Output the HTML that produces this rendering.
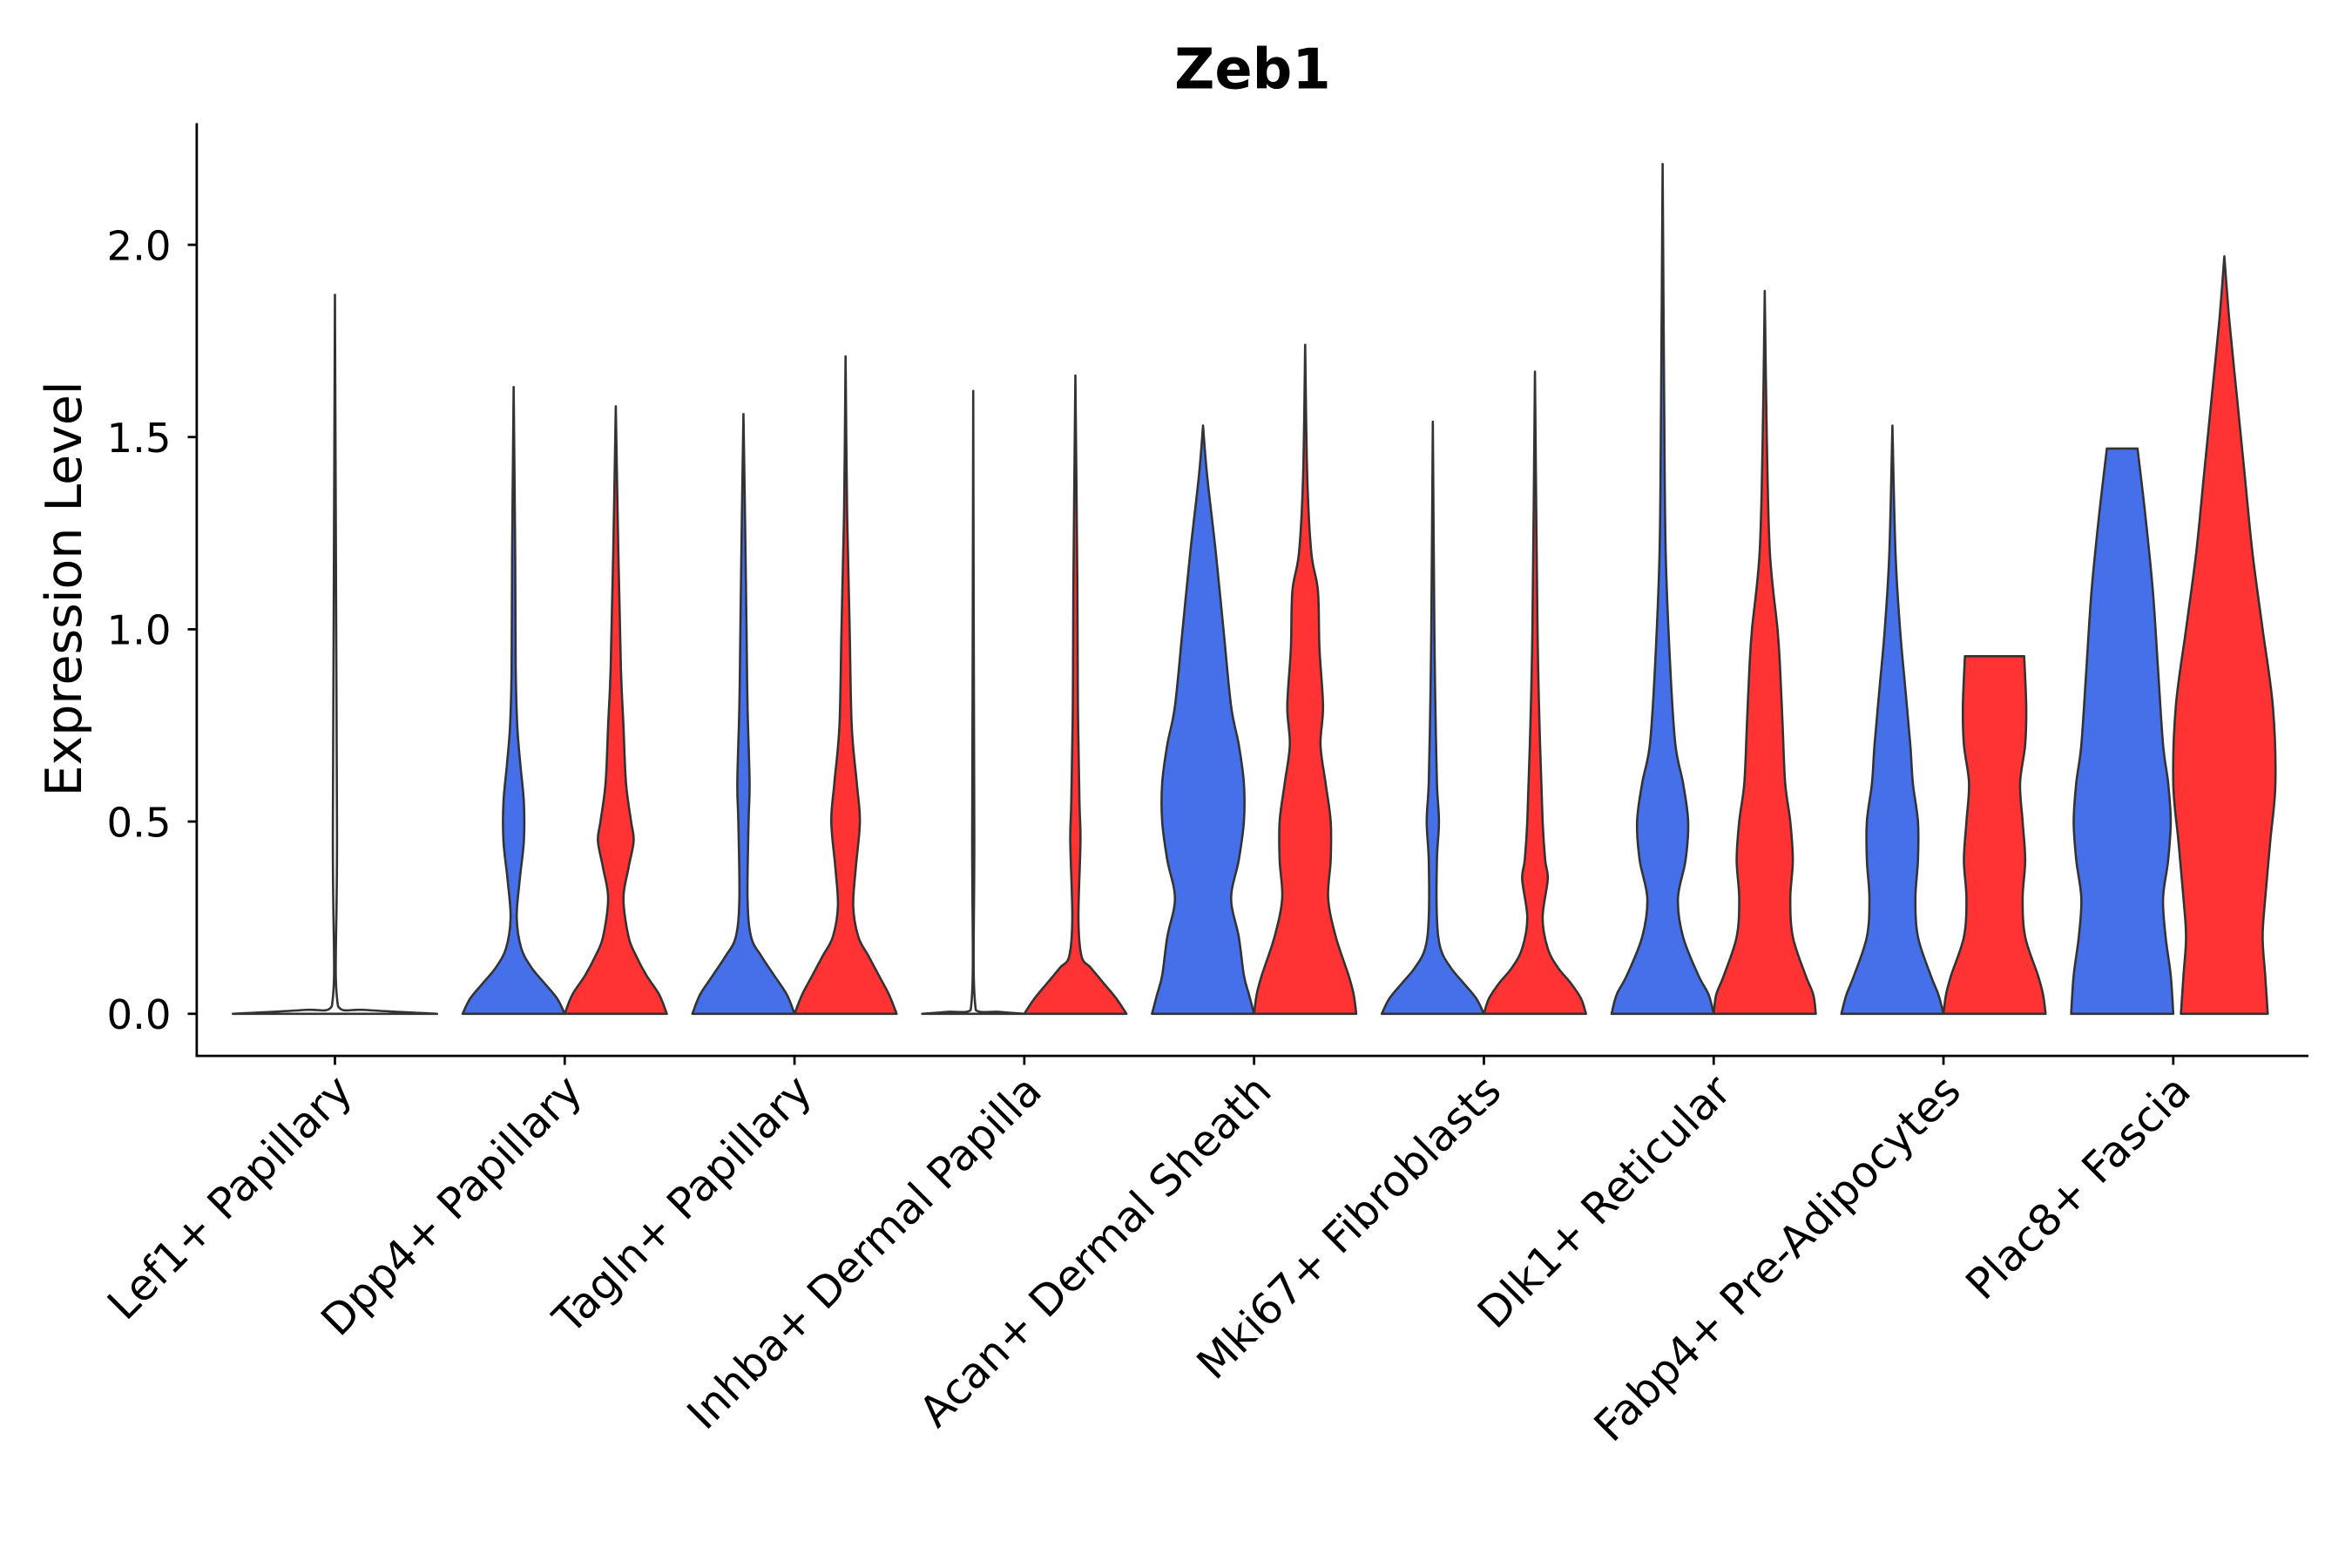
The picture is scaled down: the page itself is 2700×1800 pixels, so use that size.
<!DOCTYPE html>
<html><head><meta charset="utf-8"><style>
html,body{margin:0;padding:0;background:#fff;}
svg{display:block;}
text{font-family:"DejaVu Sans","Liberation Sans",sans-serif;fill:#000;}
</style></head><body>
<svg id="chart" width="2700" height="1800" viewBox="0 0 1566 1044" preserveAspectRatio="none" xmlns="http://www.w3.org/2000/svg">
<text x="834" y="59" font-size="37" font-weight="bold" text-anchor="middle">Zeb1</text>
<text transform="translate(54,392) rotate(-90)" font-size="33" text-anchor="middle" fill="#111">Expression Level</text>
<g id="plot"></g>
</svg>
<script>
const categories = ["Lef1+ Papillary","Dpp4+ Papillary","Tagln+ Papillary","Inhba+ Dermal Papilla","Acan+ Dermal Sheath","Mki67+ Fibroblasts","Dlk1+ Reticular","Fabp4+ Pre-Adipocytes","Plac8+ Fascia"];
const yTicks = [0, 0.5, 1.0, 1.5, 2.0];
const yTickLabels = ["0.0","0.5","1.0","1.5","2.0"];
// violins: category index, group (0 = left/blue, 1 = right/red, -1 = single), profile of [value, relative half-width]
const violinCats = [0,1,1,2,2,3,3,4,4,5,5,6,6,7,7,8,8];
const violinGroups = [-1,0,1,0,1,-1,1,0,1,0,1,0,1,0,1,0,1];
const violinProfiles = [
 [[0,1],[0.01,0.3],[0.02,0.03],[0.5,0.02],[1.87,0]],
 [[0,1],[0.04,0.85],[0.08,0.6],[0.12,0.35],[0.17,0.15],[0.25,0.06],[0.35,0.12],[0.45,0.2],[0.55,0.2],[0.65,0.13],[0.75,0.07],[0.9,0.04],[1.2,0.03],[1.63,0]],
 [[0,1],[0.05,0.85],[0.1,0.6],[0.15,0.4],[0.2,0.25],[0.3,0.15],[0.38,0.25],[0.45,0.35],[0.5,0.3],[0.6,0.2],[0.75,0.15],[0.9,0.1],[1.2,0.05],[1.58,0]],
 [[0,1],[0.05,0.85],[0.1,0.6],[0.15,0.35],[0.2,0.15],[0.3,0.08],[0.5,0.1],[0.6,0.12],[0.8,0.08],[1.0,0.06],[1.3,0.03],[1.56,0]],
 [[0,1],[0.05,0.85],[0.1,0.65],[0.15,0.45],[0.2,0.25],[0.28,0.15],[0.38,0.2],[0.5,0.28],[0.6,0.22],[0.75,0.12],[1.0,0.08],[1.3,0.03],[1.71,0]],
 [[0,1],[0.005,0.5],[0.01,0.05],[0.5,0.02],[1.62,0]],
 [[0,1],[0.04,0.8],[0.08,0.55],[0.12,0.3],[0.15,0.12],[0.25,0.06],[0.45,0.1],[0.55,0.08],[0.8,0.05],[1.1,0.04],[1.66,0]],
 [[0,1],[0.05,0.9],[0.1,0.8],[0.2,0.7],[0.3,0.55],[0.4,0.7],[0.5,0.8],[0.6,0.8],[0.7,0.7],[0.8,0.55],[1.0,0.4],[1.2,0.25],[1.4,0.08],[1.53,0]],
 [[0,1],[0.05,0.95],[0.1,0.85],[0.2,0.6],[0.3,0.45],[0.4,0.5],[0.5,0.5],[0.6,0.4],[0.7,0.3],[0.8,0.35],[0.95,0.28],[1.1,0.25],[1.2,0.12],[1.4,0.04],[1.74,0]],
 [[0,1],[0.04,0.85],[0.08,0.6],[0.12,0.35],[0.17,0.15],[0.25,0.08],[0.4,0.08],[0.5,0.12],[0.6,0.08],[0.8,0.05],[1.0,0.03],[1.54,0]],
 [[0,1],[0.04,0.9],[0.08,0.7],[0.12,0.45],[0.17,0.25],[0.25,0.15],[0.35,0.25],[0.4,0.2],[0.5,0.15],[0.7,0.1],[1.0,0.05],[1.67,0]],
 [[0,1],[0.05,0.9],[0.1,0.7],[0.2,0.4],[0.3,0.3],[0.4,0.45],[0.5,0.5],[0.6,0.4],[0.7,0.25],[0.9,0.15],[1.2,0.06],[1.6,0.03],[2.21,0]],
 [[0,1],[0.05,0.95],[0.1,0.8],[0.2,0.55],[0.3,0.5],[0.4,0.55],[0.5,0.5],[0.6,0.4],[0.75,0.35],[0.9,0.3],[1.0,0.25],[1.2,0.1],[1.5,0.04],[1.88,0]],
 [[0,1],[0.05,0.9],[0.1,0.75],[0.2,0.5],[0.3,0.45],[0.4,0.5],[0.5,0.5],[0.6,0.4],[0.7,0.35],[0.85,0.25],[1.0,0.15],[1.2,0.06],[1.53,0]],
 [[0,1],[0.05,0.95],[0.1,0.85],[0.2,0.6],[0.3,0.55],[0.4,0.6],[0.5,0.55],[0.6,0.5],[0.7,0.6],[0.8,0.62],[0.93,0.58]],
 [[0,1],[0.1,0.95],[0.2,0.85],[0.3,0.8],[0.4,0.9],[0.5,0.95],[0.6,0.9],[0.7,0.8],[0.9,0.7],[1.1,0.6],[1.3,0.45],[1.47,0.3]],
 [[0,0.85],[0.1,0.8],[0.2,0.75],[0.3,0.8],[0.45,0.9],[0.6,1.0],[0.8,0.95],[1.0,0.75],[1.2,0.55],[1.4,0.4],[1.6,0.25],[1.8,0.1],[1.97,0]]
];

const NS = "http://www.w3.org/2000/svg";
const plot = document.getElementById("plot");
const X0 = 131, X1 = 1537, Y0 = 703, YTOP = 82;
const catStep = 153, catStart = 223;
function xScale(i){ return catStart + i*catStep; }
function yScale(v){ return 675 - v*256; }
const HW = 34, OFF = 34;
const fills = {"-1":"#ffffff","0":"#4570EA","1":"#FF3333"};
const BASE = yScale(0);

function smooth(pts){
  let d = "";
  for (let i=0;i<pts.length-1;i++){
    const p0 = pts[Math.max(0,i-1)], p1 = pts[i], p2 = pts[i+1], p3 = pts[Math.min(pts.length-1,i+2)];
    const c1 = [p1[0]+(p2[0]-p0[0])/6, Math.min(BASE, p1[1]+(p2[1]-p0[1])/6)];
    const c2 = [p2[0]-(p3[0]-p1[0])/6, Math.min(BASE, p2[1]-(p3[1]-p1[1])/6)];
    d += "C"+c1[0].toFixed(2)+","+c1[1].toFixed(2)+" "+c2[0].toFixed(2)+","+c2[1].toFixed(2)+" "+p2[0].toFixed(2)+","+p2[1].toFixed(2);
  }
  return d;
}

for (let k=0;k<violinProfiles.length;k++){
  const g = violinGroups[k];
  const cat = violinCats[k];
  const cx = xScale(cat) + (cat===0 ? 0 : (g===1 ? OFF : -OFF));
  const hw = cat===0 ? HW*2 : HW;
  const prof = violinProfiles[k];
  const right = prof.map(p => [cx + p[1]*hw, yScale(p[0])]);
  const left = prof.slice().reverse().map(p => [cx - p[1]*hw, yScale(p[0])]);
  const d = "M"+right[0][0].toFixed(2)+","+right[0][1].toFixed(2)+smooth(right)+
            "L"+left[0][0].toFixed(2)+","+left[0][1].toFixed(2)+smooth(left)+"Z";
  const path = document.createElementNS(NS,"path");
  path.setAttribute("d", d);
  path.setAttribute("fill", fills[String(g)]);
  path.setAttribute("stroke", "#333");
  path.setAttribute("stroke-width", "1.5");
  path.setAttribute("stroke-linejoin", "round");
  
  
  plot.appendChild(path);
}

function line(x1,y1,x2,y2,name){
  const l = document.createElementNS(NS,"line");
  l.setAttribute("x1",x1);l.setAttribute("y1",y1);l.setAttribute("x2",x2);l.setAttribute("y2",y2);
  l.setAttribute("stroke","#000");l.setAttribute("stroke-width","1.6");
  
  
  plot.appendChild(l);
}
line(X0, YTOP, X0, Y0+0.8, "y-axis-line");
line(X0-0.8, Y0, X1, Y0, "x-axis-line");

yTicks.forEach((v,i)=>{
  const y = yScale(v);
  line(X0-6, y, X0, y, "y-tick");
  const t = document.createElementNS(NS,"text");
  t.setAttribute("x", X0-17); t.setAttribute("y", y+10);
  t.setAttribute("font-size","27"); t.setAttribute("text-anchor","end");
  t.setAttribute("fill","#222");
  t.textContent = yTickLabels[i];
  
  
  plot.appendChild(t);
});

categories.forEach((c,i)=>{
  const x = xScale(i);
  line(x, Y0, x, Y0+6, "x-tick");
  const t = document.createElementNS(NS,"text");
  t.setAttribute("transform", "translate("+(x+13)+","+(Y0+25)+") rotate(-45)");
  t.setAttribute("font-size","28.5"); t.setAttribute("text-anchor","end");
  t.setAttribute("fill","#222");
  t.textContent = c;
  
  
  plot.appendChild(t);
});
</script>
</body></html>
